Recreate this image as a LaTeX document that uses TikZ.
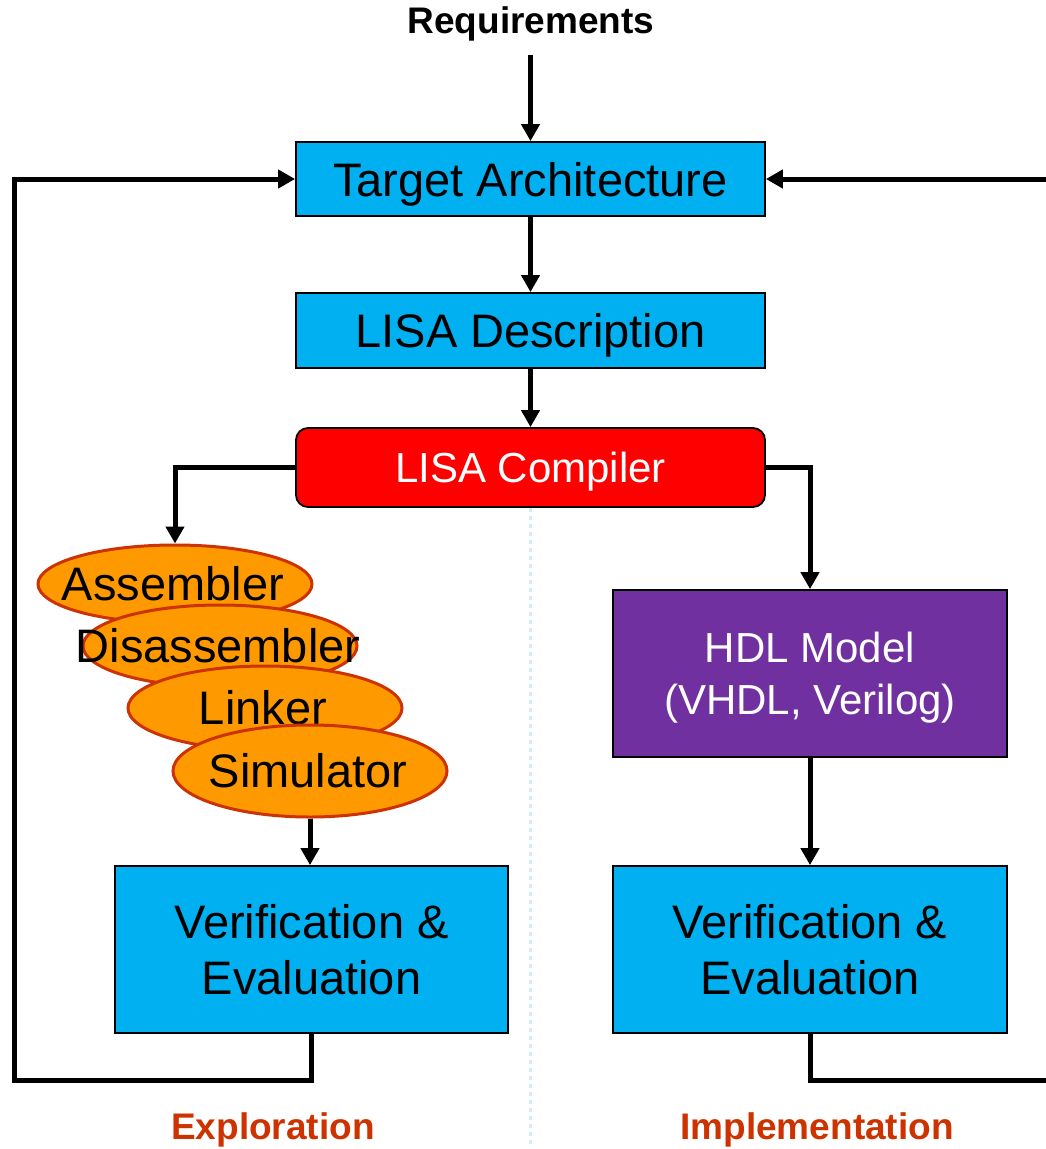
\documentclass[tikz,border=0pt]{standalone}
\usepackage{fontspec}
\setmainfont{Liberation Sans}
\usetikzlibrary{arrows.meta,shapes.geometric}

\definecolor{boxblue}{HTML}{00B0F0}
\definecolor{hdlpurple}{HTML}{7030A0}
\definecolor{toolorange}{HTML}{FF9900}
\definecolor{rimorange}{HTML}{CC3300}
\definecolor{divblue}{HTML}{D3ECF6}

\tikzset{
  flow/.style={line width=5pt,-{Triangle[length=17pt,width=18pt]}},
  blockbox/.style={draw=black,line width=1.8pt,fill=boxblue,inner sep=0pt,text depth=0pt,
    align=center,font=\fontsize{47}{56}\selectfont},
  tool/.style={ellipse,draw=rimorange,line width=3pt,fill=toolorange,inner sep=0pt,
    minimum width=274pt},
  toolname/.style={font=\fontsize{47}{56}\selectfont},
  phase/.style={font=\bfseries\fontsize{37}{44}\selectfont,text=rimorange},
}

\begin{document}
\begin{tikzpicture}[x=1pt,y=-1pt]
        \clip (0,0) rectangle (1046,1149);

        \node[font=\bfseries\fontsize{37}{44}\selectfont,inner sep=0pt] (req) at (531,24) {Requirements};
        \node[blockbox,minimum width=469pt,minimum height=74pt] (tgt) at (530.5,179) {Target Architecture};
        \coordinate (reqfoot) at (tgt.north |- 0,55);
        \node[blockbox,minimum width=469pt,minimum height=75pt] (desc) at (530.5,330.5) {LISA Description};
        \node[blockbox,fill=red,rounded corners=12pt,minimum width=469pt,minimum height=79pt,
          text=white,font=\fontsize{42}{50}\selectfont] (comp) at (530.5,467.5) {LISA Compiler};

        \coordinate (divend) at (530.5,1146);
        \draw[divblue,line width=3pt,dash pattern=on 4pt off 4pt] (comp.south) -- (divend);

        \foreach \nm/\txt/\cx/\cy/\ry in {asm/Assembler/175/584/78,dis/Disassembler/220/646/82,
          lnk/Linker/265/708/84,sim/Simulator/310/771/92} {
          \node[tool,minimum height=\ry pt] (\nm) at (\cx,\cy) {};
          \node[toolname] (\nm txt) at (\cx-2,\cy) {\txt};
        }

        \node[blockbox,fill=hdlpurple,text=white,minimum width=394pt,minimum height=167pt,
          font=\fontsize{42}{52}\selectfont] (hdl) at (810,673.5) {HDL Model\\(VHDL, Verilog)};
        \node[blockbox,minimum width=393pt,minimum height=167pt] (lver) at (311.5,949.5) {Verification \&\\Evaluation};
        \node[blockbox,minimum width=394pt,minimum height=167pt] (rver) at (810,949.5) {Verification \&\\Evaluation};

        \node[phase] (expl) at (273,1130) {Exploration};
        \node[phase] (impl) at (817,1130) {Implementation};

        \draw[flow] (reqfoot) -- (tgt.north);
        \draw[flow] (tgt) -- (desc);
        \draw[flow] (desc) -- (comp);
        \draw[flow] (comp.west) -| (asm.north);
        \draw[flow] (comp.east) -| (hdl.north);
        \draw[flow] (sim.south) -- (sim.south |- lver.north);
        \draw[flow] (hdl) -- (rver);

        \coordinate (lcorner) at (14,1080);
        \coordinate (rcorner) at (1070,1080);
        \draw[flow] (lver.south) |- (lcorner) |- (tgt.west);
        \draw[flow] (rver.south) |- (rcorner) |- (tgt.east);
      \end{tikzpicture}
\end{document}
